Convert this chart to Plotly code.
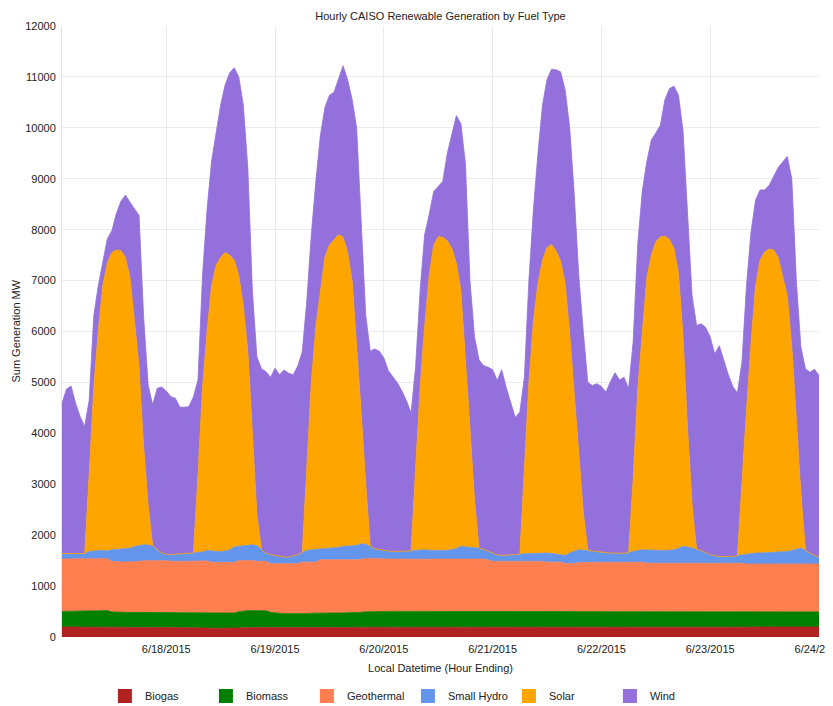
import pandas as pd
import plotly.graph_objects as go

# ---------------- data (MW, hour ending, 6/17/2015 01:00 .. 6/24/2015 00:00) ----------------
start_hour = "2015-06-17 01:00"
n_hours = 168

biogas = [
    195, 195, 194, 193, 193, 192, 192, 191, 190, 190, 191, 192, 190, 189, 188, 188, 187, 188, 189, 190, 191, 190, 189, 188,
    187, 186, 185, 184, 183, 180, 176, 172, 170, 168, 170, 172, 175, 178, 180, 182, 183, 184, 185, 186, 186, 186, 185, 185,
    185, 184, 183, 183, 182, 182, 183, 184, 185, 186, 187, 188, 188, 188, 187, 186, 186, 186, 185, 185, 184, 184, 183, 183,
    183, 182, 182, 181, 181, 180, 180, 181, 182, 183, 184, 184, 184, 183, 183, 182, 182, 181, 181, 180, 180, 180, 180, 180,
    180, 179, 179, 178, 178, 178, 178, 179, 180, 181, 182, 182, 182, 181, 181, 180, 180, 180, 180, 180, 180, 181, 181, 182,
    182, 182, 183, 183, 183, 184, 184, 185, 186, 187, 187, 188, 188, 188, 188, 188, 189, 189, 189, 190, 190, 190, 191, 191,
    191, 192, 192, 192, 193, 193, 193, 194, 194, 195, 195, 196, 196, 196, 196, 196, 196, 196, 196, 196, 196, 196, 196, 196,
]

biomass = [
    308, 310, 312, 312, 311, 312, 313, 314, 316, 326, 328, 300, 296, 295, 296, 296, 297, 296, 295, 294, 293, 294, 295, 296,
    290, 290, 289, 290, 290, 292, 296, 299, 301, 303, 301, 299, 296, 293, 291, 315, 330, 334, 333, 332, 331, 330, 300, 285,
    280, 276, 274, 273, 274, 276, 277, 284, 286, 285, 284, 283, 283, 283, 284, 285, 285, 285, 300, 310, 315, 318, 319, 320,
    320, 321, 321, 322, 322, 323, 323, 322, 321, 320, 319, 319, 319, 320, 320, 321, 321, 322, 322, 323, 323, 323, 323, 323,
    323, 324, 324, 325, 325, 325, 325, 324, 323, 322, 321, 321, 321, 322, 322, 323, 323, 323, 323, 323, 323, 322, 322, 321,
    321, 321, 320, 320, 320, 319, 319, 318, 317, 316, 316, 315, 315, 315, 315, 315, 314, 314, 314, 313, 313, 313, 312, 312,
    312, 311, 311, 311, 310, 310, 310, 309, 309, 308, 308, 307, 307, 306, 305, 304, 303, 302, 301, 300, 299, 298, 297, 296,
]

geothermal = [
    1027, 1025, 1024, 1025, 1026, 1026, 1025, 1025, 1022, 1024, 1020, 990, 990, 991, 990, 991, 992, 1000, 1012, 1016, 1016, 1015, 1014, 1012,
    1008, 1009, 1011, 1011, 1012, 1013, 1023, 1024, 1024, 994, 995, 993, 994, 995, 994, 1003, 987, 982, 982, 967, 968, 969, 955, 970,
    975, 980, 983, 984, 984, 1012, 1010, 1002, 999, 1044, 1046, 1043, 1045, 1044, 1047, 1043, 1045, 1044, 1046, 1044, 1045, 1035, 1031, 1028,
    1027, 1028, 1026, 1027, 1029, 1027, 1026, 1028, 1027, 1025, 1027, 1028, 1026, 1027, 1029, 1027, 1026, 1025, 1027, 1028, 1026, 1027, 1010, 982,
    982, 983, 981, 982, 984, 982, 981, 983, 982, 980, 982, 967, 968, 966, 967, 940, 935, 937, 955, 962, 963, 961, 962, 963,
    962, 963, 961, 962, 963, 962, 961, 962, 963, 947, 948, 946, 947, 948, 947, 946, 947, 948, 947, 946, 947, 948, 947, 946,
    947, 948, 946, 947, 948, 947, 946, 929, 930, 929, 929, 929, 930, 931, 932, 933, 934, 935, 936, 937, 938, 939, 940, 941,
]

small_hydro = [
    110, 108, 105, 102, 105, 110, 150, 155, 172, 165, 151, 233, 244, 250, 256, 270, 299, 311, 314, 305, 290, 216, 152, 129,
    130, 143, 150, 145, 150, 165, 170, 175, 205, 225, 214, 211, 225, 244, 305, 285, 290, 300, 312, 305, 230, 165, 180, 160,
    135, 130, 130, 150, 180, 190, 230, 243, 250, 211, 223, 232, 234, 245, 262, 265, 274, 285, 298, 285, 240, 196, 183, 170,
    160, 149, 151, 150, 153, 160, 171, 182, 183, 177, 170, 169, 171, 175, 181, 210, 250, 242, 236, 224, 217, 190, 177, 165,
    130, 116, 121, 125, 128, 140, 151, 154, 160, 165, 163, 178, 169, 161, 145, 157, 212, 240, 255, 240, 234, 226, 205, 194,
    185, 182, 184, 183, 179, 195, 216, 235, 247, 260, 254, 251, 250, 249, 255, 264, 290, 328, 320, 297, 270, 249, 210, 166,
    150, 131, 133, 132, 131, 150, 166, 198, 207, 216, 218, 223, 227, 228, 232, 237, 247, 267, 293, 313, 267, 215, 167, 137,
]

solar = [
    0, 0, 0, 0, 0, 0, 1520, 3215, 4300, 5195, 5660, 5835, 5880, 5865, 5720, 5305, 4425, 3505, 1940, 795, 0, 0, 0, 0,
    0, 0, 0, 0, 0, 0, 1535, 3230, 4300, 5210, 5620, 5785, 5860, 5790, 5630, 5315, 4710, 3800, 2188, 610, 0, 0, 0, 0,
    0, 0, 0, 0, 0, 0, 1600, 3287, 4380, 5074, 5720, 5954, 6060, 6140, 6070, 5781, 5210, 4000, 2585, 1200, 0, 0, 0, 0,
    0, 0, 0, 0, 0, 0, 1600, 3187, 4387, 5395, 6000, 6160, 6150, 6075, 5917, 5600, 5021, 3780, 2334, 945, 0, 0, 0, 0,
    0, 0, 0, 0, 0, 0, 1665, 3360, 4555, 5302, 5752, 6002, 6070, 5950, 5765, 5350, 4300, 3070, 1887, 745, 0, 0, 0, 0,
    0, 0, 0, 0, 0, 0, 1420, 3150, 4317, 5340, 5795, 6060, 6160, 6170, 6105, 5917, 5410, 4121, 2330, 854, 0, 0, 0, 0,
    0, 0, 0, 0, 0, 0, 1485, 2830, 4130, 5252, 5750, 5905, 5960, 5939, 5785, 5430, 5020, 4000, 2534, 1084, 0, 0, 0, 0,
]

wind = [
    2950, 3232, 3295, 2958, 2695, 2495, 1450, 1400, 900, 430, 470, 430, 720, 970, 1230, 1490, 2220, 2980, 2550, 2350, 2770, 3170, 3260, 3205,
    3105, 3062, 2880, 2882, 2890, 3070, 1850, 2200, 2400, 2450, 2600, 2990, 3300, 3580, 3780, 3900, 3950, 3600, 2800, 3100, 3555, 3560, 3480, 3680,
    3575, 3675, 3610, 3560, 3700, 3940, 3300, 2900, 2850, 3050, 2940, 2940, 2890, 3050, 3370, 3390, 3560, 4200, 3600, 3300, 3830, 3924, 3897, 3780,
    3540, 3430, 3310, 3150, 2955, 2710, 2000, 1900, 1800, 1200, 1050, 990, 1100, 1720, 2270, 2900, 3280, 3750, 2900, 3200, 3694, 3610, 3610, 3600,
    3425, 3648, 3295, 2990, 2695, 2795, 1800, 2000, 2200, 2550, 3050, 3300, 3440, 3560, 3720, 3800, 4050, 3950, 3500, 3550, 3300, 3250, 3305, 3260,
    3160, 3372, 3542, 3402, 3455, 3220, 2700, 2850, 2720, 2280, 2260, 2140, 2190, 2680, 2960, 3190, 3490, 4050, 4100, 4100, 4400, 4450, 4420, 4275,
    3960, 4138, 3858, 3568, 3338, 3190, 2300, 2440, 2180, 1680, 1380, 1220, 1250, 1450, 1770, 2230, 2740, 3300, 2740, 2870, 3570, 3552, 3660, 3570,
]

fuel_names = ["Biogas", "Biomass", "Geothermal", "Small Hydro", "Solar", "Wind"]
fuel_colors = ["#B22222", "#008000", "#FF7F50", "#6495ED", "#FFA500", "#9370DB"]
tick_dates = ["2015-06-18", "2015-06-19", "2015-06-20", "2015-06-21",
              "2015-06-22", "2015-06-23", "2015-06-24"]
tick_labels = ["6/18/2015", "6/19/2015", "6/20/2015", "6/21/2015",
               "6/22/2015", "6/23/2015", "6/24/2015"]

# ---------------- figure ----------------
hours = pd.date_range(start_hour, periods=n_hours, freq="h")
series = [biogas, biomass, geothermal, small_hydro, solar, wind]

fig = go.Figure()
for name, color, vals in zip(fuel_names, fuel_colors, series):
    fig.add_trace(go.Scatter(
        x=hours, y=vals, name=name, stackgroup="gen", mode="lines",
        line=dict(width=0.8, color=color, shape="linear"), fillcolor=color,
        showlegend=False, hoverinfo="x+y+name",
    ))
# legend swatches
for name, color in zip(fuel_names, fuel_colors):
    fig.add_trace(go.Scatter(
        x=[None], y=[None], mode="markers", name=name,
        marker=dict(symbol="square", size=14, color=color), showlegend=True,
    ))

FONT = "Liberation Sans, Arial, sans-serif"
# the page body adds an 8 px margin; plot area is placed so it lands at
# window x 62..819, y 26..637; the figure runs past the window's right/bottom edge
W, H = 833, 722
fig.update_layout(
    width=W, height=H,
    template="none",
    margin=dict(l=54, r=22, t=18, b=93),
    paper_bgcolor="white", plot_bgcolor="white",
    font=dict(family=FONT, size=11, color="#222222"),
    title=dict(text="Hourly CAISO Renewable Generation by Fuel Type",
               x=0.5, xref="paper", xanchor="center",
               y=1 - 8 / H, yref="container", yanchor="middle",
               font=dict(family=FONT, size=11, color="#222222")),
    showlegend=True,
    legend=dict(orientation="h", x=0.0567, xanchor="left",
                y=-0.0966, yanchor="middle", traceorder="normal",
                entrywidth=56, entrywidthmode="pixels",
                font=dict(family=FONT, size=11, color="#222222"),
                bgcolor="rgba(0,0,0,0)", itemsizing="trace"),
    xaxis=dict(type="date", range=[hours[0], hours[-1]],
               tickmode="array", tickvals=tick_dates, ticktext=tick_labels,
               ticklabeloverflow="allow",
               showgrid=True, gridcolor="#ebebeb", gridwidth=1,
               zeroline=False, showline=False,
               ticks="outside", ticklen=2, tickcolor="rgba(0,0,0,0)",
               tickfont=dict(size=11),
               title=dict(text="Local Datetime (Hour Ending)", standoff=10,
                          font=dict(size=11)),
               automargin=False),
    yaxis=dict(range=[0, 12000], tick0=0, dtick=1000, tickformat="d",
               showgrid=True, gridcolor="#ebebeb", gridwidth=1,
               zeroline=False, showline=True, linecolor="#e3e3e3", linewidth=1,
               ticks="outside", ticklen=3, tickcolor="rgba(0,0,0,0)",
               tickfont=dict(size=11),
               automargin=False),
    annotations=[dict(text="Sum Generation MW", textangle=-90,
                      xref="paper", yref="paper", x=-0.062, y=0.5,
                      xanchor="center", yanchor="middle", showarrow=False,
                      font=dict(family=FONT, size=11, color="#222222"))],
)

fig.write_html("out.html")
